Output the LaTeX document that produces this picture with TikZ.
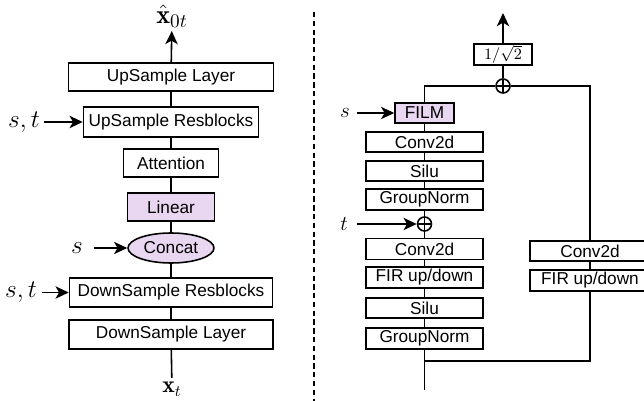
\documentclass[tikz,border=0pt]{standalone}
\usepackage{fontspec}
\setsansfont{Liberation Sans}
\usepackage{tikz}
\usetikzlibrary{arrows.meta,shapes.geometric}
\definecolor{filmpurple}{RGB}{233,214,240}
\tikzset{
 	block/.style={draw,black,line width=.9pt,fill=white,inner sep=0pt,font=\sffamily\fontsize{9.8}{11}\selectfont},
	cblock/.style={block,fill=filmpurple},
	sumnode/.style={draw,black,circle,line width=.9pt,fill=white,minimum size=.28cm,inner sep=0pt,
		path picture={\draw[line width=.9pt] (path picture bounding box.north) -- (path picture bounding box.south)
			(path picture bounding box.west) -- (path picture bounding box.east);}},
	mlab/.style={inner sep=2pt,font=\fontsize{13.5}{15}\selectfont},
	edge/.style={draw,black,line width=.9pt},
	aedge/.style={draw,black,line width=.9pt,-{Stealth[length=7.5pt,width=7pt,inset=2pt]}},
	dedge/.style={draw,black,line width=.6pt,dash pattern=on 3pt off 2pt}
}
\begin{document}
\begin{tikzpicture}[x = 0.02cm, y = -0.02cm]

\clip (0,0) rectangle (644,401);

% left: network
\node[block,minimum width=4.1cm,minimum height=.56cm]   (upl) at (171,77)    {UpSample Layer};
\node[block,minimum width=3.5cm,minimum height=.6cm]    (usr) at (171,122)   {UpSample Resblocks};
\node[block,minimum width=1.9cm,minimum height=.56cm]   (att) at (171,163)   {Attention};
\node[cblock,minimum width=1.74cm,minimum height=.56cm] (lin) at (171,207)   {Linear};
\node[cblock,ellipse,minimum width=1.72cm,minimum height=.6cm] (cat) at (171,248) {Concat};
\node[block,minimum width=4.06cm,minimum height=.58cm]  (dsr) at (171,292.5) {DownSample Resblocks};
\node[block,minimum width=4.08cm,minimum height=.58cm]  (dsl) at (171,334.5) {DownSample Layer};

\node[mlab,font=\fontsize{15}{17}\selectfont] (xhat) at (172,16) {$\hat{\mathbf{x}}_{0t}$};
\node[mlab] (xt) at (172,389) {$\mathbf{x}_t$};

\node[mlab] (stup) at (24,122)   {$s,t$};
\node[mlab] (scat) at (77,248)   {$s$};
\node[mlab] (stdn) at (21,292.5) {$s,t$};

\draw[edge] (xt) -- (dsl);
\draw[edge] (dsl) -- (dsr);
\draw[edge] (dsr) -- (cat);
\draw[edge] (cat) -- (lin);
\draw[edge] (lin) -- (att);
\draw[edge] (att) -- (usr);
\draw[edge] (usr) -- (upl);
\draw[aedge] (upl) -- (xhat);

\draw[aedge] (stup) -- (usr);
\draw[aedge,shorten <=4pt] (scat) -- (cat);
\draw[aedge,shorten <=1pt] (stdn) -- (dsr);

\draw[dedge] (314,12) -- (314,401);

% right: resblock
\coordinate (out) at (503,13);
\node[block,font=\fontsize{9.5}{11}\selectfont,minimum width=1.16cm,minimum height=.42cm] (scl) at (503,54.5) {$1/\sqrt{2}$};
\node[sumnode] (addo) at (503,86) {};

\node[cblock,minimum width=1.18cm,minimum height=.4cm] (film) at (424.5,113)   {FILM};
\node[block,minimum width=2.34cm,minimum height=.4cm]  (cva)  at (424.5,142)   {Conv2d};
\node[block,minimum width=2.34cm,minimum height=.4cm]  (sia)  at (424.5,171)   {Silu};
\node[block,minimum width=2.34cm,minimum height=.42cm] (gna)  at (424.5,199.5) {GroupNorm};
\node[sumnode] (addt) at (424.5,224) {};
\node[block,minimum width=2.34cm,minimum height=.42cm] (cvb)  at (424.5,249)   {Conv2d};
\node[block,minimum width=2.34cm,minimum height=.42cm] (firb) at (424.5,277.5) {FIR up/down};
\node[block,minimum width=2.34cm,minimum height=.4cm]  (sib)  at (424.5,308)   {Silu};
\node[block,minimum width=2.34cm,minimum height=.42cm] (gnb)  at (424.5,338.5) {GroupNorm};
\coordinate (join) at (424.5,361);
\coordinate (in) at (424.5,390);

\node[block,minimum width=2.4cm,minimum height=.4cm]  (cvr)  at (590,251)   {Conv2d};
\node[block,minimum width=2.4cm,minimum height=.42cm] (firr) at (590,280.5) {FIR up/down};

\node[mlab,font=\fontsize{12.5}{14}\selectfont] (sfilm) at (345,113) {$s$};
\node[mlab,font=\fontsize{12.5}{14}\selectfont] (tadd)  at (344,224) {$t$};

\draw[edge] (in) -- (gnb);
\draw[edge] (gnb) -- (sib);
\draw[edge] (sib) -- (firb);
\draw[edge] (firb) -- (cvb);
\draw[edge] (cvb) -- (addt);
\draw[edge] (addt) -- (gna);
\draw[edge] (gna) -- (sia);
\draw[edge] (sia) -- (cva);
\draw[edge] (cva) -- (film);
\draw[edge] (film) |- (addo);

\draw[edge] (join) -| (firr);
\draw[edge] (firr) -- (cvr);
\draw[edge] (cvr) |- (addo);

\draw[edge] (addo) -- (scl);
\draw[aedge] (scl) -- (out);

\draw[aedge,shorten <=2pt] (sfilm) -- (film);
\draw[aedge,shorten <=3pt] (tadd) -- (addt);

\end{tikzpicture}
\end{document}
